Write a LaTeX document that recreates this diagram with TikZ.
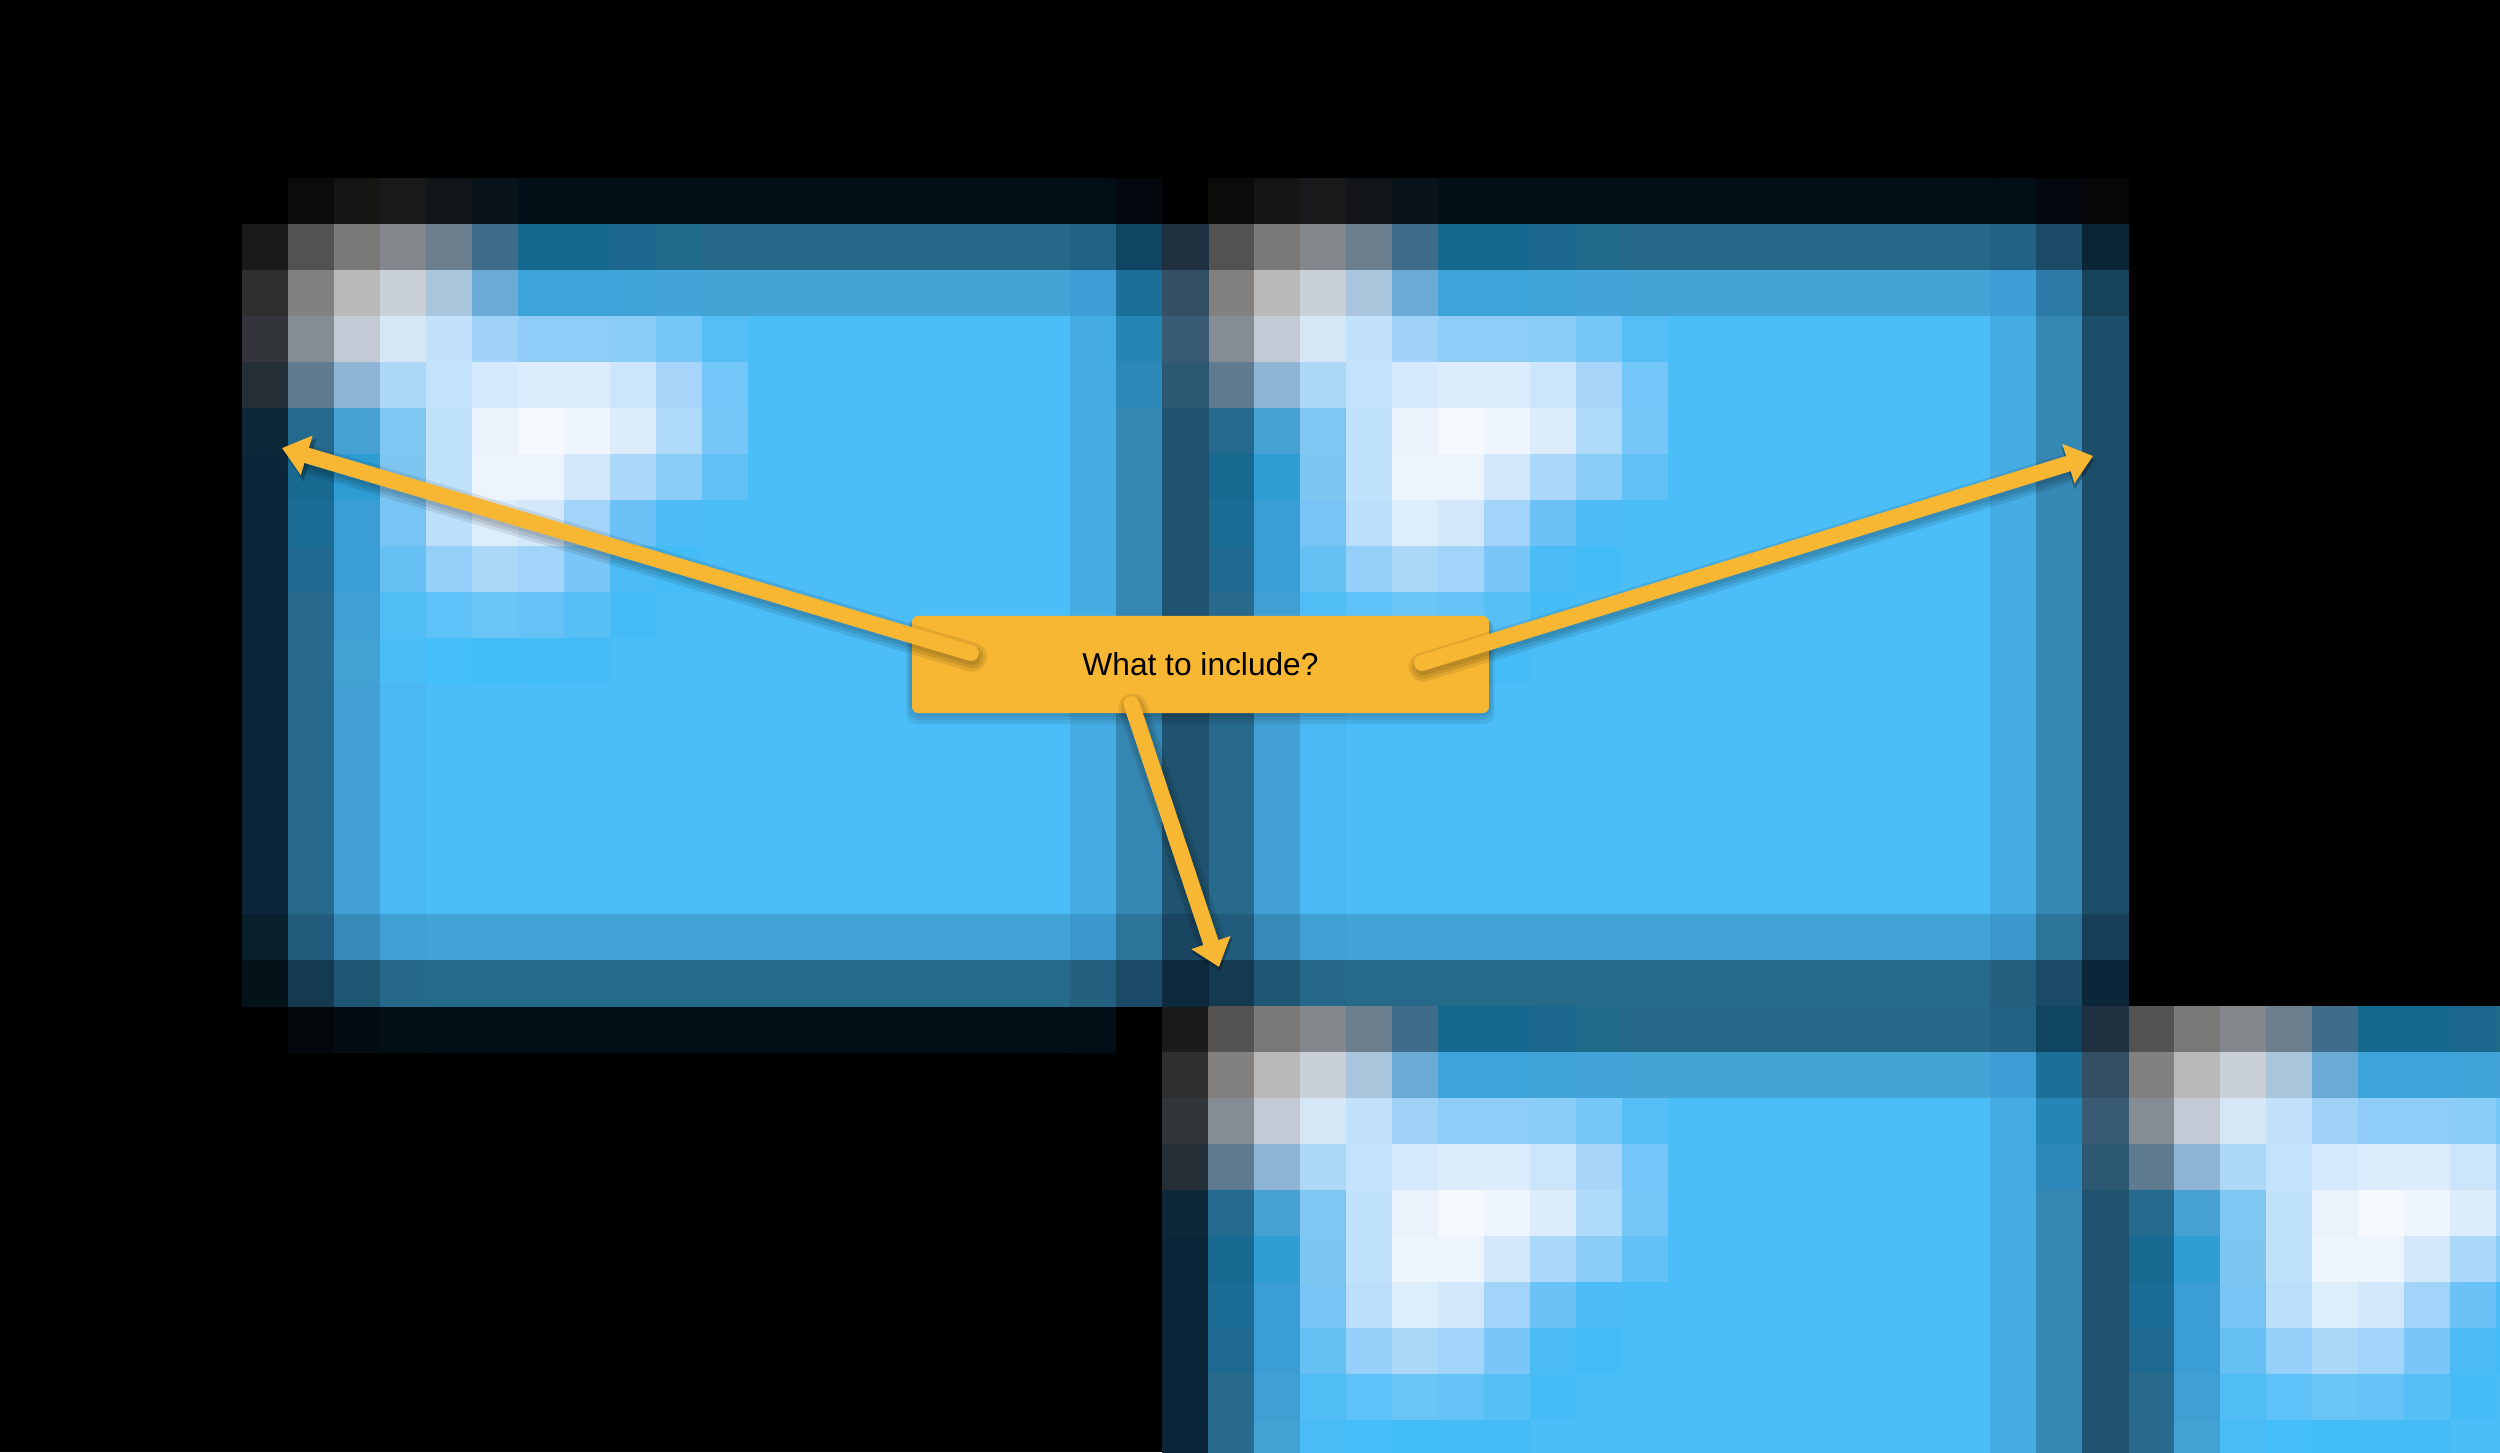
\documentclass[tikz,border=0pt]{standalone}
\usepackage{fontspec}
\setmainfont{Liberation Sans}
\usetikzlibrary{arrows.meta,calc}
\definecolor{gold}{HTML}{F8B733}
\tikzset{
 callout/.style={fill=gold, rounded corners=0.13cm, minimum width=12.54cm, minimum height=2.11cm, inner sep=0pt, font=\fontsize{19.6}{23}\selectfont},
 pointer/.style={draw=gold, line width=9.8pt, line cap=round, -{Triangle[width=0.86cm,length=0.56cm]}},
 pointer shadow/.style={draw=black, line width=#1, line cap=round, opacity=0.09, -{Triangle[width=0.92cm,length=0.6cm]}, transform canvas={shift={(0.03,-0.09)}}},
 callout shadow/.style={fill=black, opacity=0.07, rounded corners=0.25cm}
}
\newcommand{\pixrow}[2]{%
 \foreach \hx [count=\i from 0] in {#2} {
  \definecolor{px}{HTML}{\hx}
  \fill[px] (\i,-#1) rectangle ++(1.02,-1.02);
 }}
\newcommand{\pixcol}[2]{%
 \foreach \hx [count=\j from 0] in {#2} {
  \definecolor{px}{HTML}{\hx}
  \fill[px] (#1,-\j) rectangle ++(1.02,-1.02);
 }}
\newcommand{\drawtile}{%
 \pixrow{0}{1B1B1B,535250,7A7977,84878C,6C7F8E,3F6C8A,17688E,17688E,1B678E,206A8A,256888,256888,256888,256888,256888,256888,256888,256888,236285,1B4A66,0A2535}
 \pixrow{1}{2F2F2F,82817F,B9B9B9,C9D0D8,A9C5DC,6AABD6,3CA4DA,3CA4DA,40A4D8,42A4D8,44A4D6,44A4D6,44A4D6,44A4D6,44A4D6,44A4D6,44A4D6,44A4D6,3C9ED5,2B7AA8,16425A}
 \pixrow{2}{32353A,858C93,C3CAD5,D6E8F6,C1E2FA,A0D2F8,8FCDF8,8FCDF8,8ACDF8,76C6F8,56BEF6,4BBDF7,4BBDF7,4BBDF7,4BBDF7,4BBDF7,4BBDF7,4BBDF7,45ADE4,3688B4,1C4D69}
 \pixrow{3}{232E37,5F7B8F,8FB5D5,ADD8F6,C2E3FB,D4E9FB,DCECFC,DCECFC,CDE5FA,A8D6FA,72C6F8,4BBDF7,4BBDF7,4BBDF7,4BBDF7,4BBDF7,4BBDF7,4BBDF7,45ADE4,3688B4,1C4D69}
 \pixrow{4}{0D2839,236A8E,46A0D4,80C6F2,C1E2FB,EAF2FC,F5F9FD,EFF5FD,DCECFB,B0DAFA,76C6F8,4BBDF7,4BBDF7,4BBDF7,4BBDF7,4BBDF7,4BBDF7,4BBDF7,45ADE4,3688B4,1C4D69}
 \pixrow{5}{0A2638,176990,2E9DD4,7EC6F2,C1E2FB,EEF4FC,EEF4FC,D3E8FB,ACD8FA,8ACEF8,62C2F6,4BBDF7,4BBDF7,4BBDF7,4BBDF7,4BBDF7,4BBDF7,4BBDF7,45ADE4,3688B4,1C4D69}
 \pixrow{6}{0A2638,1A6C94,3A9ED4,78C4F4,BCE0FB,DDEEFB,D3E8FB,A2D3F8,6CC2F6,4EBCF6,4BBDF7,4BBDF7,4BBDF7,4BBDF7,4BBDF7,4BBDF7,4BBDF7,4BBDF7,45ADE4,3688B4,1C4D69}
 \pixrow{7}{0A2638,1F6990,3A9ED4,66C0F4,94D0FA,ACD8F8,A2D3F8,7AC6F6,4CBCF6,44BCF6,4BBDF7,4BBDF7,4BBDF7,4BBDF7,4BBDF7,4BBDF7,4BBDF7,4BBDF7,45ADE4,3688B4,1C4D69}
 \pixrow{8}{0A2638,286A8C,40A0D4,50BEF4,5EC2F8,6AC4F6,64C2F6,56BFF6,46BCF6,4BBDF7,4BBDF7,4BBDF7,4BBDF7,4BBDF7,4BBDF7,4BBDF7,4BBDF7,4BBDF7,45ADE4,3688B4,1C4D69}
 \pixrow{9}{0A2638,2A6A8C,42A2D4,4ABCF6,46C0FA,40BCF6,44BCF6,46BCF6,4BBDF7,4BBDF7,4BBDF7,4BBDF7,4BBDF7,4BBDF7,4BBDF7,4BBDF7,4BBDF7,4BBDF7,45ADE4,3688B4,1C4D69}
 \foreach \r in {10,...,14} {
  \pixrow{\r}{0A2638,286A8C,42A0D4,4AB9F3,4BBDF7,4BBDF7,4BBDF7,4BBDF7,4BBDF7,4BBDF7,4BBDF7,4BBDF7,4BBDF7,4BBDF7,4BBDF7,4BBDF7,4BBDF7,4BBDF7,45ADE4,3688B4,1C4D69}
 }
 \pixrow{15}{081F2C,225C7C,388AB8,40A0D4,42A4D6,42A4D6,42A4D6,42A4D6,42A4D6,42A4D6,42A4D6,42A4D6,42A4D6,42A4D6,42A4D6,42A4D6,42A4D6,42A4D6,3C98CC,2C7498,173F57}
 \pixrow{16}{04121A,143A50,1F5674,25688A,266A8A,266A8A,266A8A,266A8A,266A8A,266A8A,266A8A,266A8A,266A8A,266A8A,266A8A,266A8A,266A8A,266A8A,23607F,1B4A66,0A2638}
}

\begin{document}
\begin{tikzpicture}
\useasboundingbox (-0.26087,0.86957) rectangle (54.087,-30.696);
\clip (-0.26087,0.86957) rectangle (54.087,-30.696);
\fill[black] (-0.26087,0.86957) rectangle (54.087,-30.696);

\foreach \cx in {5,25} {
 \begin{scope}[shift={(\cx,-3)}]
 \pixrow{0}{000000,0B0B0A,151513,19191B,131619,08141A,021018,021018,021018,021018,021018,021018,021018,021018,021018,021018,021018,021018,020E16,03080E,050608}
 \end{scope}
}
\begin{scope}[shift={(5,-21)}]
\pixrow{0}{000000,03060A,020C12,021016,021018,021018,021018,021018,021018,021018,021018,021018,021018,021018,021018,021018,021018,021018,020E16,000000,000000}
\end{scope}

\foreach \cx/\ry in {5/4,25/4,25/21,45/21} {
 \begin{scope}[shift={(\cx,-\ry)}]
 \drawtile
 \end{scope}
}

\foreach \cx/\ry in {24/4,44/21} {
 \begin{scope}[shift={(\cx,-\ry)}]
 \pixcol{0}{0F4560,1B7099,2585B5,2D87B8,3688B4,3688B4,3688B4,3688B4,3688B4,3688B4,3688B4,3688B4,3688B4,3688B4,3688B4,2C7498,1B4A66}
 \pixcol{1}{1F3040,345064,395B73,2D5872,1F536F,1F536F,1F536F,1F536F,1F536F,1F536F,1F536F,1F536F,1F536F,1F536F,1F536F,1A4560,0C2A3C}
 \end{scope}
}

\foreach \d in {0.04,0.08,0.12} {
 \fill[callout shadow] (19.565-\d,-12.522-0.5*\d) rectangle (32.109+\d,-14.630-2*\d);
}
\node[callout] (ask) at (25.837,-13.576) {What to include?};
\coordinate (s1) at ($(ask.center)+(-4.99,0.25)$);
\coordinate (s2) at ($(ask.center)+(4.815,0.033)$);
\coordinate (s3) at ($(ask.center)+(-1.5,-0.859)$);
\coordinate (tl) at (5.870,-8.870);
\coordinate (tr) at (45.239,-9.043);
\coordinate (bm) at (26.239,-20.152);
\foreach \a/\b in {s1/tl,s2/tr,s3/bm} {
 \foreach \w in {18pt,14pt,10pt} {
  \draw[pointer shadow=\w] (\a) -- (\b);
 }
 \draw[pointer] (\a) -- (\b);
}
\end{tikzpicture}
\end{document}
